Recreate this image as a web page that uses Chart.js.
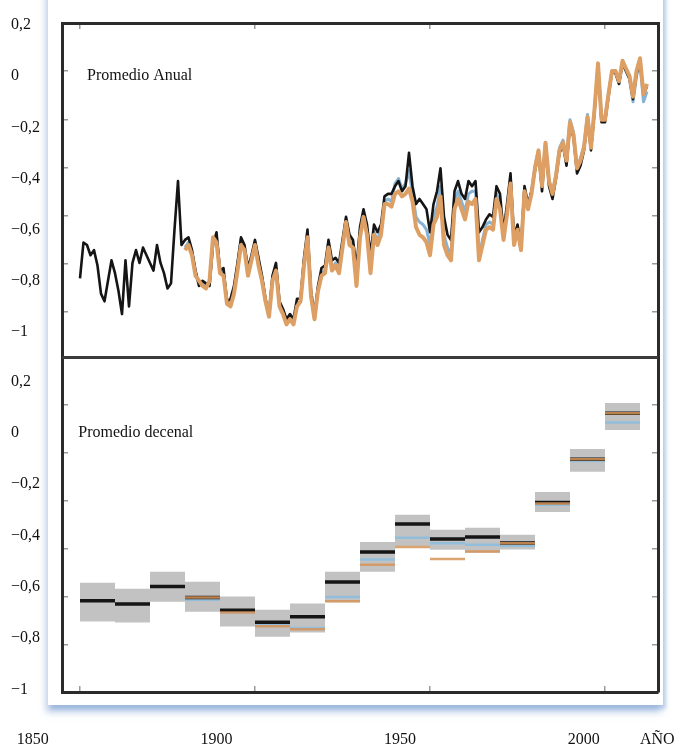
<!DOCTYPE html>
<html>
<head>
<meta charset="utf-8">
<script src="https://cdn.jsdelivr.net/npm/chart.js@4.4.1/dist/chart.umd.min.js"></script>
<style>
  html, body { margin: 0; padding: 0; background: #fff; }
  #wrap { position: relative; width: 678px; height: 749px; overflow: hidden; }
  #panel { position: absolute; left: 48px; top: -20px; width: 615px; height: 725px; background: #fff;
           box-shadow: -2px 7px 7px rgba(125, 160, 212, 0.55), 3px 4px 4px rgba(125, 160, 212, 0.45); }
  #chart { position: absolute; left: 0; top: 0; }
</style>
</head>
<body>
<div id="wrap">
  <div id="panel"></div>
  <canvas id="chart" width="678" height="749"></canvas>
</div>
<script>
// annual anomalies (black from 1850, orange and blue from 1880)
const blackStart = 1850;
const blackAnnual = [
  -0.79, -0.65, -0.66, -0.70, -0.68, -0.74, -0.85, -0.88, -0.80, -0.72,
  -0.77, -0.84, -0.93, -0.72, -0.90, -0.73, -0.68, -0.73, -0.67, -0.70,
  -0.73, -0.76, -0.66, -0.73, -0.77, -0.83, -0.81, -0.60, -0.41, -0.66,
  -0.64, -0.63, -0.68, -0.76, -0.82, -0.80, -0.81, -0.82, -0.66, -0.61,
  -0.76, -0.75, -0.88, -0.87, -0.82, -0.73, -0.63, -0.66, -0.75, -0.70,
  -0.64, -0.71, -0.78, -0.87, -0.93, -0.78, -0.73, -0.88, -0.91, -0.95,
  -0.93, -0.95, -0.87, -0.87, -0.71, -0.60, -0.84, -0.93, -0.82, -0.75,
  -0.74, -0.64, -0.72, -0.71, -0.73, -0.64, -0.55, -0.62, -0.64, -0.75,
  -0.59, -0.52, -0.58, -0.70, -0.58, -0.61, -0.58, -0.47, -0.46, -0.46,
  -0.43, -0.41, -0.45, -0.43, -0.30, -0.43, -0.50, -0.48, -0.50, -0.52,
  -0.61, -0.50, -0.45, -0.36, -0.55, -0.62, -0.64, -0.45, -0.41, -0.46,
  -0.48, -0.41, -0.43, -0.41, -0.61, -0.59, -0.56, -0.54, -0.55, -0.43,
  -0.46, -0.61, -0.50, -0.38, -0.63, -0.58, -0.67, -0.43, -0.50, -0.45,
  -0.37, -0.30, -0.45, -0.27, -0.43, -0.48, -0.40, -0.30, -0.27, -0.35,
  -0.19, -0.24, -0.38, -0.35, -0.29, -0.17, -0.29, -0.14, 0.04, -0.18,
  -0.18, -0.08, 0.02, 0.01, -0.03, 0.05, 0.02, -0.01, -0.09, 0.01,
  0.06, -0.07, -0.04
];
const otherStart = 1880;
const orangeAnnual = [
  -0.68, -0.66, -0.70, -0.78, -0.80, -0.82, -0.83, -0.80, -0.63, -0.65,
  -0.77, -0.78, -0.89, -0.90, -0.85, -0.76, -0.66, -0.68, -0.78, -0.72,
  -0.66, -0.74, -0.80, -0.88, -0.94, -0.80, -0.76, -0.90, -0.93, -0.97,
  -0.95, -0.97, -0.90, -0.88, -0.74, -0.63, -0.86, -0.95, -0.84, -0.78,
  -0.77, -0.67, -0.76, -0.74, -0.77, -0.67, -0.57, -0.66, -0.67, -0.82,
  -0.63, -0.55, -0.62, -0.77, -0.62, -0.66, -0.62, -0.50, -0.50, -0.51,
  -0.46, -0.45, -0.47, -0.46, -0.44, -0.49, -0.59, -0.62, -0.63, -0.65,
  -0.70, -0.58, -0.55, -0.47, -0.66, -0.70, -0.72, -0.52, -0.48, -0.52,
  -0.56, -0.49, -0.50, -0.48, -0.72, -0.66, -0.60, -0.59, -0.60, -0.48,
  -0.52, -0.64, -0.54, -0.42, -0.66, -0.60, -0.68, -0.45, -0.52, -0.46,
  -0.36, -0.29, -0.43, -0.26, -0.41, -0.46, -0.39, -0.29, -0.26, -0.33,
  -0.18, -0.23, -0.36, -0.33, -0.28, -0.16, -0.28, -0.13, 0.05, -0.17,
  -0.17, -0.07, 0.02, 0.02, -0.02, 0.06, 0.03, 0.00, -0.08, 0.02,
  0.07, -0.07, -0.03
];
const blueAnnual = [
  -0.67, -0.65, -0.69, -0.77, -0.81, -0.81, -0.82, -0.81, -0.64, -0.63,
  -0.76, -0.77, -0.88, -0.89, -0.84, -0.74, -0.64, -0.67, -0.77, -0.71,
  -0.65, -0.73, -0.79, -0.88, -0.94, -0.79, -0.75, -0.89, -0.92, -0.96,
  -0.94, -0.96, -0.89, -0.88, -0.73, -0.62, -0.86, -0.95, -0.83, -0.77,
  -0.76, -0.66, -0.75, -0.73, -0.76, -0.66, -0.56, -0.64, -0.66, -0.80,
  -0.61, -0.54, -0.60, -0.75, -0.61, -0.64, -0.60, -0.49, -0.48, -0.49,
  -0.42, -0.40, -0.44, -0.42, -0.37, -0.46, -0.55, -0.57, -0.58, -0.60,
  -0.66, -0.55, -0.51, -0.43, -0.62, -0.67, -0.70, -0.49, -0.45, -0.49,
  -0.53, -0.46, -0.45, -0.45, -0.70, -0.64, -0.58, -0.57, -0.58, -0.46,
  -0.50, -0.63, -0.52, -0.41, -0.65, -0.59, -0.68, -0.44, -0.51, -0.45,
  -0.35, -0.29, -0.42, -0.26, -0.41, -0.46, -0.38, -0.28, -0.25, -0.32,
  -0.17, -0.22, -0.36, -0.32, -0.27, -0.15, -0.27, -0.13, 0.04, -0.16,
  -0.16, -0.07, 0.02, 0.02, -0.03, 0.05, 0.02, -0.01, -0.10, 0.00,
  0.05, -0.10, -0.06
];

// decadal means and the grey uncertainty band of the black series
const decadeStarts = [1850, 1860, 1870, 1880, 1890, 1900, 1910, 1920, 1930, 1940, 1950, 1960, 1970, 1980, 1990, 2000];
const decadeBlack  = [-0.654, -0.667, -0.599, -0.642, -0.691, -0.738, -0.717, -0.581, -0.464, -0.355, -0.414, -0.406, -0.429, -0.271, -0.103, 0.076];
const decadeOrange = [null, null, null, -0.642, -0.700, -0.754, -0.765, -0.656, -0.514, -0.445, -0.492, -0.462, -0.430, -0.275, -0.103, 0.076];
const decadeBlue   = [null, null, null, -0.650, -0.700, -0.750, -0.760, -0.640, -0.494, -0.409, -0.430, -0.436, -0.440, -0.280, -0.110, 0.040];
const decadeHigh   = [-0.584, -0.607, -0.541, -0.580, -0.638, -0.689, -0.665, -0.541, -0.425, -0.319, -0.378, -0.370, -0.397, -0.231, -0.063, 0.116];
const decadeLow    = [-0.735, -0.739, -0.658, -0.697, -0.755, -0.794, -0.778, -0.660, -0.541, -0.441, -0.456, -0.467, -0.455, -0.308, -0.152, 0.011];

// axes
const yTickValues = [0.2, 0, -0.2, -0.4, -0.6, -0.8, -1];
const yTickLabels = ['0,2', '0', '\u22120,2', '\u22120,4', '\u22120,6', '\u22120,8', '\u22121'];
const xTickValues = [1850, 1900, 1950, 2000, 2020];
const xTickLabels = ['1850', '1900', '1950', '2000', 'AÑO'];
const xMarkValues = [1850, 1900, 1950, 2000];
const topMarkValues = [0, -0.2, -0.4, -0.6, -0.8, -1];
const bottomMarkValues = [0.2, 0, -0.2, -0.4, -0.6, -0.8];

const panelTitles = ['Promedio Anual', 'Promedio decenal'];
const panelTitleX = [1852, 1849.5];
const panelTitleY = [0, 0];

function series(start, values) {
  return values.map((v, i) => ({ x: start + i, y: v }));
}

// one flat segment per decade, broken between decades
function decadeSegments(values) {
  const pts = [];
  decadeStarts.forEach((s, i) => {
    if (values[i] === null) return;
    pts.push({ x: s, y: values[i] }, { x: s + 10, y: values[i] }, { x: s + 10, y: null });
  });
  return pts;
}

// step outline of the boxes (used as the edges of a filled band)
function decadeSteps(values) {
  const pts = decadeStarts.map((s, i) => ({ x: s, y: values[i] }));
  pts.push({ x: decadeStarts[decadeStarts.length - 1] + 10, y: values[values.length - 1] });
  return pts;
}

function fixTicks(values) {
  return axis => { axis.ticks = values.map(v => ({ value: v })); };
}

const serif = '"Liberation Serif", "Times New Roman", serif';
const font = { family: serif, size: 16 };
const frame = { display: true, color: '#2b2b2b', width: 3 };
const marks = { drawOnChartArea: false, drawTicks: true, tickLength: -6, color: '#9a9a9a', lineWidth: 1.5 };

function markAxis(position, stack, weight, min, max, values, width) {
  return {
    type: 'linear', position, stack, weight, min, max,
    border: position === 'right' ? frame : { display: false },
    grid: marks,
    ticks: { display: false },
    afterBuildTicks: fixTicks(values),
    afterFit: s => { s.width = width; }
  };
}

function labelAxis(weight, min, max) {
  return {
    type: 'linear', position: 'left', stack: 'labels', weight, min, max,
    border: frame,
    grid: { drawOnChartArea: false, drawTicks: false },
    ticks: { font, color: '#111', crossAlign: 'far', autoSkip: false,
             callback: (v, i) => yTickLabels[i] },
    afterBuildTicks: fixTicks(yTickValues),
    afterFit: s => { s.width = 51; }
  };
}

const divider = {
  id: 'divider',
  afterDatasetsDraw(chart) {
    const { ctx, chartArea, scales } = chart;
    const y = scales.yTop.bottom;
    ctx.save();
    ctx.strokeStyle = '#3a3a3a';
    ctx.lineWidth = 3;
    ctx.beginPath();
    ctx.moveTo(chartArea.left, y);
    ctx.lineTo(chartArea.right, y);
    ctx.stroke();
    ctx.restore();
  }
};

const panelLabels = {
  id: 'panelLabels',
  afterDraw(chart) {
    const { ctx, scales } = chart;
    const yScales = [scales.yTop, scales.yBottom];
    ctx.save();
    ctx.font = '16px ' + serif;
    ctx.fillStyle = '#111';
    ctx.textBaseline = 'middle';
    panelTitles.forEach((t, i) => {
      ctx.fillText(t, scales.x.getPixelForValue(panelTitleX[i]), yScales[i].getPixelForValue(panelTitleY[i]));
    });
    ctx.restore();
  }
};

const lineDefaults = { pointRadius: 0, tension: 0, fill: false, borderJoinStyle: 'round' };

new Chart(document.getElementById('chart'), {
  type: 'line',
  data: {
    datasets: [
      { ...lineDefaults, label: 'orange annual', data: series(otherStart, orangeAnnual), yAxisID: 'yTop',
        borderColor: '#dd9f64', borderWidth: 4, order: 1 },
      { ...lineDefaults, label: 'black annual', data: series(blackStart, blackAnnual), yAxisID: 'yTop',
        borderColor: '#151515', borderWidth: 2.6, order: 2 },
      { ...lineDefaults, label: 'blue annual', data: series(otherStart, blueAnnual), yAxisID: 'yTop',
        borderColor: '#86b3d4', borderWidth: 3, order: 3 },

      { ...lineDefaults, label: 'orange decadal', data: decadeSegments(decadeOrange), yAxisID: 'yBottom',
        borderColor: 'rgba(214, 148, 88, 0.85)', borderWidth: 2.5, borderCapStyle: 'butt', order: 1 },
      { ...lineDefaults, label: 'black decadal', data: decadeSegments(decadeBlack), yAxisID: 'yBottom',
        borderColor: '#151515', borderWidth: 3.5, borderCapStyle: 'butt', order: 2 },
      { ...lineDefaults, label: 'blue decadal', data: decadeSegments(decadeBlue), yAxisID: 'yBottom',
        borderColor: '#93bedb', borderWidth: 2.5, borderCapStyle: 'butt', order: 3 },
      { ...lineDefaults, label: 'band high', data: decadeSteps(decadeHigh), yAxisID: 'yBottom', stepped: true,
        borderWidth: 0, borderColor: 'rgba(0,0,0,0)', fill: '+1', backgroundColor: 'rgba(120, 120, 120, 0.45)', order: 5 },
      { ...lineDefaults, label: 'band low', data: decadeSteps(decadeLow), yAxisID: 'yBottom', stepped: true,
        borderWidth: 0, borderColor: 'rgba(0,0,0,0)', order: 6 }
    ]
  },
  options: {
    responsive: false,
    animation: false,
    layout: { padding: { left: 11, top: 23, right: 0, bottom: 0 } },
    plugins: { legend: { display: false }, tooltip: { enabled: false } },
    scales: {
      x: {
        type: 'linear', position: 'bottom', weight: 0, min: 1844.86, max: 2015.14,
        border: frame, grid: marks, ticks: { display: false },
        afterBuildTicks: fixTicks(xMarkValues), afterFit: s => { s.height = 0; }
      },
      xTop: {
        type: 'linear', position: 'top', min: 1844.86, max: 2015.14,
        border: frame, grid: marks, ticks: { display: false },
        afterBuildTicks: fixTicks(xMarkValues), afterFit: s => { s.height = 0; }
      },
      xLabels: {
        type: 'linear', position: 'bottom', fullSize: true, weight: 1, min: 1844.09, max: 2025.64,
        border: { display: false },
        // invisible tick marks push the labels down without widening the side padding
        grid: { display: true, drawOnChartArea: false, drawTicks: true, tickLength: 35, color: 'rgba(0,0,0,0)' },
        ticks: { font, color: '#111', padding: 3, autoSkip: false, maxRotation: 0,
                 callback: (v, i) => xTickLabels[i] },
        afterBuildTicks: fixTicks(xTickValues), afterFit: s => { s.height = 57; }
      },
      yTop: labelAxis(2.1, -1.0997, 0.2078),
      yBottom: labelAxis(2, -1.0097, 0.2934),
      yTopMarksL: markAxis('left', 'marksL', 1.1, -1.189, 0.2, topMarkValues, 0),
      yBottomMarksL: markAxis('left', 'marksL', 1, -0.996, 0.398, bottomMarkValues, 0),
      yTopMarksR: markAxis('right', 'marksR', 1, -1.189, 0.2, topMarkValues, 20),
      yBottomMarksR: markAxis('right', 'marksR', 1.1, -0.996, 0.398, bottomMarkValues, 20)
    }
  },
  plugins: [divider, panelLabels]
});
</script>
</body>
</html>
